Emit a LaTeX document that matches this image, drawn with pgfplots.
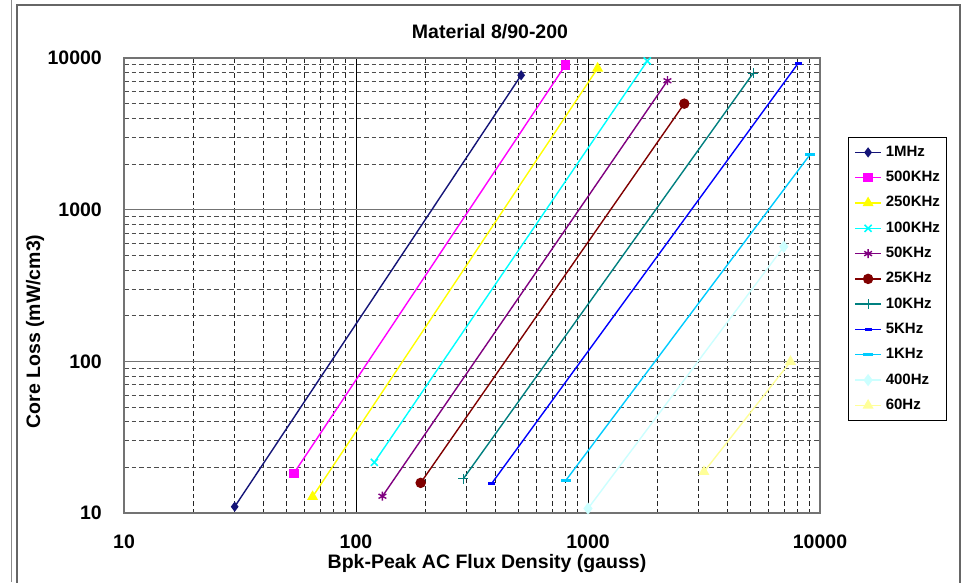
\documentclass[border=0pt]{standalone}
\usepackage{pgfplots}
\pgfplotsset{compat=1.18}
\usepackage{fontspec}
\setmainfont{Liberation Sans}
\newcommand\bigf{\fontsize{19.5}{23}\selectfont\bfseries}
\newcommand\legf{\fontsize{15}{18}\selectfont\bfseries}
\definecolor{cA}{RGB}{20,20,120}
\definecolor{cB}{RGB}{255,0,255}
\definecolor{cC}{RGB}{255,255,0}
\definecolor{cD}{RGB}{0,255,255}
\definecolor{cE}{RGB}{128,0,128}
\definecolor{cF}{RGB}{128,0,0}
\definecolor{cG}{RGB}{0,128,128}
\definecolor{cH}{RGB}{0,0,255}
\definecolor{cI}{RGB}{0,204,255}
\definecolor{cJ}{RGB}{204,255,255}
\definecolor{cK}{RGB}{255,255,153}
\begin{document}
\begin{tikzpicture}[x=1pt,y=1pt]
\useasboundingbox (0,0) rectangle (963,582);
\fill[white] (0,0) rectangle (963,582);
\draw[black!45, line width=1.8pt] (11.5,0) -- (11.5,582);
\draw[black!60, line width=1.2pt] (17,-2) -- (17,577) -- (960,577) -- (960,-2);
\begin{axis}[
  at={(124pt,69pt)}, anchor=south west, scale only axis,
  width=696pt, height=455pt,
  xmode=log, ymode=log,
  xmin=10, xmax=10000, ymin=10, ymax=10000,
  xtick={10,100,1000,10000}, xticklabels={10,100,1000,10000},
  ytick={10,100,1000,10000}, yticklabels={10,100,1000,10000},
  major tick length=0pt, minor tick length=0pt,
  tick label style={font=\bigf},
  xticklabel style={anchor=north, inner sep=0pt, text depth=0pt, yshift=-22pt},
  yticklabel style={anchor=east, inner sep=0pt, xshift=-22pt},
  grid=both,
  major x grid style={black, line width=0.9pt},
  major y grid style={black!55, line width=1.3pt},
  minor x grid style={black!85, line width=0.9pt, dash pattern=on 4.5pt off 3pt},
  minor y grid style={black!70, line width=0.9pt, dash pattern=on 4.5pt off 3pt},
  axis line style={draw=black!55, line width=1.4pt},
  clip=false,
  title={Material 8/90-200},
  title style={font=\bigf, at={(axis description cs:0.5,1)}, anchor=base, yshift=13pt, xshift=18pt},
  xlabel={Bpk-Peak AC Flux Density (gauss)},
  xlabel style={font=\bigf, at={(axis description cs:0.5,0)}, anchor=base, inner sep=0pt, yshift=-55pt, xshift=15pt},
  ylabel={Core Loss (mW/cm3)},
  ylabel style={font=\bigf, at={(axis description cs:0,0.5)}, anchor=center, xshift=-46pt, yshift=89pt},
  legend cell align=left,
  legend style={at={(axis description cs:1.0402,0.8264)}, anchor=north west,
    font=\legf, draw=black, line width=0.8pt, inner xsep=6pt, inner ysep=8pt,
    row sep=11.3pt, column sep=4pt,
    nodes={inner sep=0pt, text height=11pt, text depth=3pt}},
  legend image code/.code={\draw[mark repeat=2,mark phase=2,#1] plot coordinates {(0pt,0pt) (13pt,0pt) (26pt,0pt)};},
  every axis plot/.append style={line width=1.4pt},
]
\addplot[cA, mark=diamond*, mark size=4pt, mark options={solid}] coordinates {(30,11) (515,7700)};
\addlegendentry{1MHz}
\addplot[cB, mark=square*, mark size=4pt] coordinates {(54,18.3) (800,9000)};
\addlegendentry{500KHz}
\addplot[cC, mark=triangle*, mark size=5pt] coordinates {(65,12.8) (1100,8550)};
\addlegendentry{250KHz}
\addplot[cD, mark=x, mark size=5pt, mark options={line width=1.6pt}] coordinates {(120,21.6) (1800,9550)};
\addlegendentry{100KHz}
\addplot[cE, mark=asterisk, mark size=4.5pt, mark options={line width=1.4pt}] coordinates {(130,12.9) (2200,7080)};
\addlegendentry{50KHz}
\addplot[cF, mark=*, mark size=4.5pt] coordinates {(190,15.8) (2600,5000)};
\addlegendentry{25KHz}
\addplot[cG, mark=+, mark size=5pt, mark options={line width=1.2pt}] coordinates {(290,16.8) (5150,7930)};
\addlegendentry{10KHz}
\addplot[cH, mark=-, mark size=3.5pt, mark options={line width=2.5pt}] coordinates {(385,15.7) (8050,9230)};
\addlegendentry{5KHz}
\addplot[cI, mark=-, mark size=5pt, mark options={line width=3pt}] coordinates {(800,16.3) (9040,2300)};
\addlegendentry{1KHz}
\addplot[cJ, mark=diamond*, mark size=5pt] coordinates {(1000,10.7) (6980,570)};
\addlegendentry{400Hz}
\addplot[cK, mark=triangle*, mark size=5pt] coordinates {(3160,18.7) (7460,99.6)};
\addlegendentry{60Hz}
\end{axis}
\end{tikzpicture}
\end{document}
